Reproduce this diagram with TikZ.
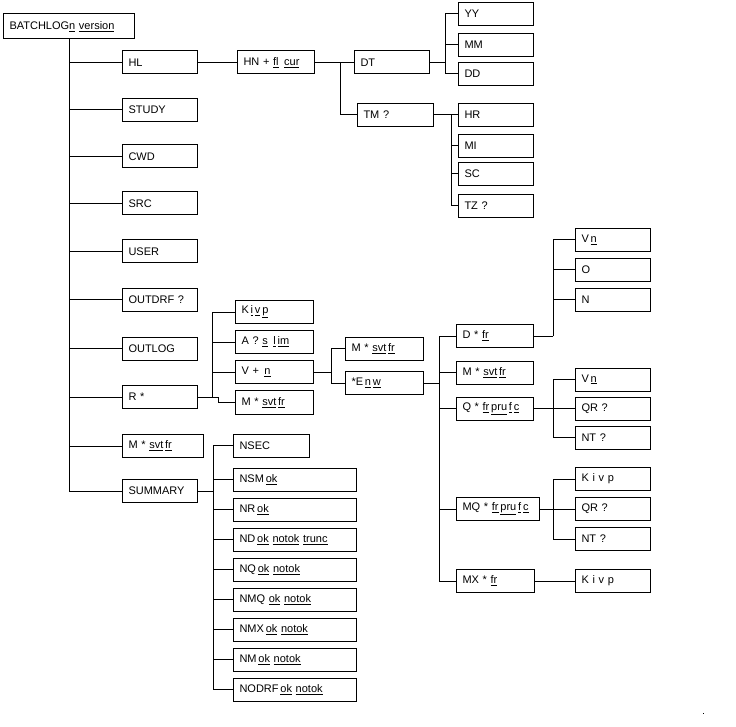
\documentclass[tikz,border=0pt]{standalone}
\usepackage{fontspec}
\setmainfont{Liberation Sans}
\newcommand\ud[1]{\underline{#1}}
\tikzset{
  bx/.style={draw, line width=1pt, minimum height=23pt, inner xsep=6pt, inner ysep=0pt,
    align=left, anchor=west, font=\fontsize{11}{12}\selectfont},
  ln/.style={line width=1pt}
}
\begin{document}
\begin{tikzpicture}[x=1pt,y=-1pt]
\useasboundingbox (0,0) rectangle (736,727);
% root
\node[bx, text width=119pt, minimum height=25pt] (root) at (3,26.5) {BATCHLOG\ud{n} \ud{version}};
% level 1
\node[bx, text width=63pt] (hl) at (122,62.5) {HL};
\node[bx, text width=63pt] (study) at (122,110) {STUDY};
\node[bx, text width=63pt] (cwd) at (122,156.5) {CWD};
\node[bx, text width=63pt] (src) at (122,203.5) {SRC};
\node[bx, text width=63pt] (user) at (122,251.5) {USER};
\node[bx, text width=63pt] (outdrf) at (122,300) {OUTDRF ?};
\node[bx, text width=63pt] (outlog) at (122,348.5) {OUTLOG};
\node[bx, text width=63pt] (r) at (122,397) {R *};
\node[bx, text width=69pt] (msum) at (122,446) {M * \ud{svt}\,\ud{fr}};
\node[bx, text width=63pt] (summary) at (122,491) {SUMMARY};
% HL subtree
\node[bx, text width=65pt] (hn) at (237,62.5) {HN + \ud{fl}\, \ud{cur}};
\node[bx, text width=63pt] (dt) at (354,62.5) {DT};
\node[bx, text width=64pt] (tm) at (357,115) {TM ?};
\node[bx, text width=63pt] (yy) at (458,14) {YY};
\node[bx, text width=63pt] (mm) at (458,45) {MM};
\node[bx, text width=63pt] (dd) at (458,74) {DD};
\node[bx, text width=63pt] (hr) at (458,115) {HR};
\node[bx, text width=63pt] (mi) at (458,146) {MI};
\node[bx, text width=63pt] (sc) at (458,174) {SC};
\node[bx, text width=63pt] (tz) at (458,206) {TZ ?};
% R subtree
\node[bx, text width=66pt] (kivp1) at (235,312) {K\,\ud{i}\,\ud{v}\,\ud{p}};
\node[bx, text width=66pt] (aslim) at (235,342) {A ? \ud{s}\, \ud{l}\,\ud{im}};
\node[bx, text width=66pt] (vn1) at (235,372) {V + \,\ud{n}};
\node[bx, text width=66pt, minimum height=24pt] (m2) at (235,402.5) {M * \ud{svt}\,\ud{fr}};
\node[bx, text width=66pt] (m3) at (345,348.5) {M * \ud{svt}\,\ud{fr}};
\node[bx, text width=66pt] (enw) at (345,383) {*E\,\ud{n}\,\ud{w}};
\node[bx, text width=65pt] (d) at (456,336) {D * \ud{fr}};
\node[bx, text width=65pt] (m4) at (456,372.5) {M * \ud{svt}\,\ud{fr}};
\node[bx, text width=65pt] (q) at (456,408.5) {Q * \ud{fr}\,\ud{pru}\,\ud{f}\,\ud{c}};
\node[bx, text width=71pt] (mq) at (456,509) {MQ * \ud{fr}\,\ud{pru}\,\ud{f}\,\ud{c}};
\node[bx, text width=66pt] (mx) at (456,581) {MX * \ud{fr}};
\node[bx, text width=63pt] (vn2) at (575,240) {V\,\ud{n}};
\node[bx, text width=63pt] (oo) at (575,270) {O};
\node[bx, text width=63pt] (nn) at (575,300) {N};
\node[bx, text width=63pt] (vn3) at (575,379.5) {V\,\ud{n}};
\node[bx, text width=63pt] (qr1) at (575,408.5) {QR ?};
\node[bx, text width=63pt] (nt1) at (575,437.5) {NT ?};
\node[bx, text width=63pt] (kivp2) at (575,479) {K i v p};
\node[bx, text width=63pt] (qr2) at (575,509) {QR ?};
\node[bx, text width=63pt] (nt2) at (575,539) {NT ?};
\node[bx, text width=63pt] (kivp3) at (575,581) {K i v p};
% SUMMARY subtree
\node[bx, text width=64pt] (nsec) at (233,445.5) {NSEC};
\node[bx, text width=111pt] (nsm) at (233,479.5) {NSM\,\ud{ok}};
\node[bx, text width=111pt] (nr) at (233,509.5) {NR\,\ud{ok}};
\node[bx, text width=111pt] (nd) at (233,539.5) {ND\,\ud{ok} \ud{notok} \ud{trunc}};
\node[bx, text width=111pt] (nq) at (233,569.5) {NQ\,\ud{ok} \ud{notok}};
\node[bx, text width=111pt] (nmq) at (233,599.5) {NMQ \ud{ok} \ud{notok}};
\node[bx, text width=111pt] (nmx) at (233,629.5) {NMX\,\ud{ok} \ud{notok}};
\node[bx, text width=111pt] (nm) at (233,659.5) {NM\,\ud{ok} \ud{notok}};
\node[bx, text width=111pt] (nodrf) at (233,689.5) {NODRF\,\ud{ok} \ud{notok}};
% connectors
\draw[ln] (root.south) -- (root.south |- summary.west);
\foreach \c in {hl,study,cwd,src,user,outdrf,outlog,r,msum,summary}
  \draw[ln] (\c.west) -- (\c.west -| root.south);
\draw[ln] (hl) -- (hn);
\draw[ln] (hn.east) -- ++(25,0) coordinate (j1) -- (dt.west);
\draw[ln] (j1) |- (tm.west);
\draw[ln] (dt.east) -- ++(15,0) coordinate (j2);
\foreach \c in {yy,mm,dd} \draw[ln] (j2) |- (\c.west);
\draw[ln] (tm.east) -- ++(17,0) coordinate (j3);
\foreach \c in {hr,mi,sc,tz} \draw[ln] (j3) |- (\c.west);
\draw[ln] (r.east) -- ++(14,0) coordinate (j4);
\foreach \c in {kivp1,aslim,vn1} \draw[ln] (j4) |- (\c.west);
\draw[ln] (j4) -- ++(6,0) |- (m2.west);
\draw[ln] (vn1.east) -- ++(17,0) coordinate (j5);
\draw[ln] (j5) |- (m3.west);
\draw[ln] (j5) |- (enw.west);
\draw[ln] (enw.east) -- ++(15,0) coordinate (j6);
\foreach \c in {d,m4,q,mq,mx} \draw[ln] (j6) |- (\c.west);
\draw[ln] (d.east) -- ++(19,0) coordinate (j7);
\foreach \c in {vn2,oo,nn} \draw[ln] (j7) |- (\c.west);
\draw[ln] (q.east) -- ++(19,0) coordinate (j8);
\foreach \c in {vn3,qr1,nt1} \draw[ln] (j8) |- (\c.west);
\draw[ln] (mq.east) -- ++(13,0) coordinate (j9);
\foreach \c in {kivp2,qr2,nt2} \draw[ln] (j9) |- (\c.west);
\draw[ln] (mx) -- (kivp3);
\draw[ln] (summary.east) -- ++(15,0) coordinate (j10);
\foreach \c in {nsec,nsm,nr,nd,nq,nmq,nmx,nm,nodrf} \draw[ln] (j10) |- (\c.west);
% stray dot
\fill (703,713) rectangle (704.2,714.2);
\end{tikzpicture}
\end{document}
